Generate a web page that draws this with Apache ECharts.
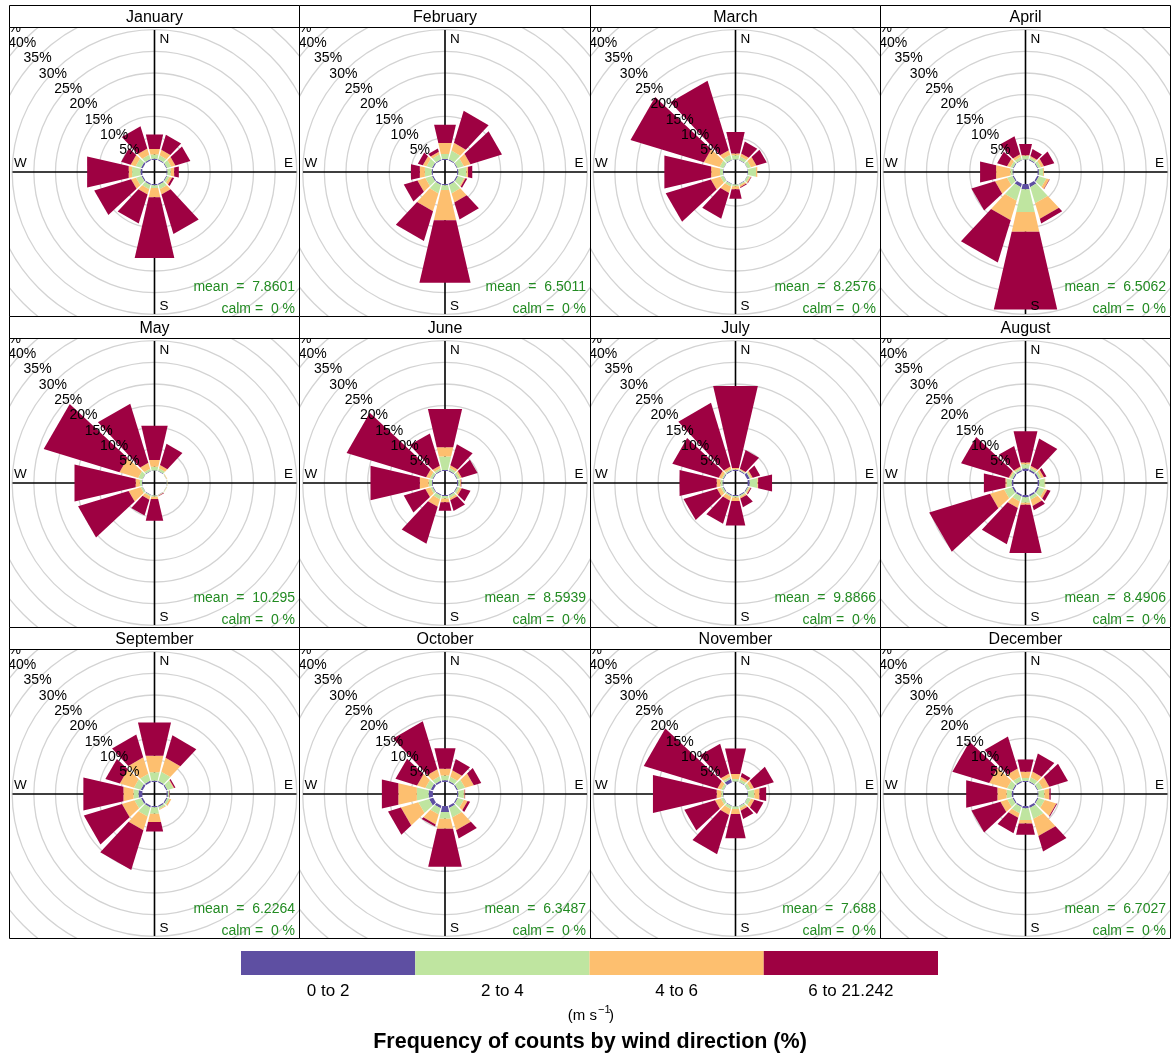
<!DOCTYPE html>
<html>
<head>
<meta charset="utf-8">
<script src="https://cdn.jsdelivr.net/npm/echarts@6/dist/echarts.min.js"></script>
<style>
html,body{margin:0;padding:0;background:#fff;}
#wrap{position:relative;width:1171px;height:1058px;overflow:hidden;background:#fff;}
.pane{position:absolute;}
</style>
</head>
<body>
<div id="wrap"></div>
<script>
// ---------------- DATA ----------------
const monthNames = ['January','February','March','April','May','June','July','August','September','October','November','December'];
const directions = [0, 30, 60, 90, 120, 150, 180, 210, 240, 270, 300, 330];
const speedBins = ['0 to 2', '2 to 4', '4 to 6', '6 to 21.242'];
const ringTicks = [5, 10, 15, 20, 25, 30, 35, 40, 45];
const meanSpeed = ['7.8601','6.5011','8.2576','6.5062','10.295','8.5939','9.8866','8.4906','6.2264','6.3487','7.688','6.7027'];
const calmPct = [0,0,0,0,0,0,0,0,0,0,0,0];

// frequency (%) by direction N,30,60,...,330 ; rows = speed bins 0-2, 2-4, 4-6, 6+
const freqJan = [
  [0.3,0.2,0.2,0.2,0.2,0.3,0.3,0.3,0.3,0.45,0.4,0.3],
  [1.0,1.0,1.0,0.8,0.6,1.0,0.6,1.0,1.3,2.0,1.3,1.0],
  [1.3,1.3,1.0,0.8,0.6,1.3,2.2,1.3,1.2,0.8,1.2,1.5],
  [3.4,3.65,3.6,1.1,0.5,9.5,14.4,7.0,8.9,9.85,2.3,5.4]
];
const freqFeb = [
  [0.2,0.2,0.2,0.3,0.3,0.3,0.3,0.3,0.3,0.3,0.3,0.2],
  [1.2,2.1,1.5,1.9,1.5,2.0,1.1,2.0,1.6,1.6,1.3,1.2],
  [2.6,1.9,1.6,0.4,0.3,2.2,7.2,4.3,1.9,1.2,0.9,0.6],
  [4.35,7.7,7.6,1.0,0.4,4.1,14.8,7.2,3.3,2.1,1.2,0.8]
];
const freqMar = [
  [0.1,0.1,0.1,0.1,0.1,0.1,0.1,0.1,0.1,0.1,0.1,0.1],
  [1.0,0.8,0.8,1.9,0.5,0.3,0.4,0.6,0.7,0.7,0.9,1.2],
  [0.4,0.7,1.3,0.3,0.3,0.4,0.7,1.5,2.3,2.1,3.8,1.1],
  [5.1,2.9,2.5,0.0,0.1,0.2,2.3,6.2,10.9,11.1,17.7,16.8]
];
const freqApr = [
  [0.1,0.2,0.2,0.3,0.4,0.8,1.25,0.8,0.3,0.2,0.2,0.1],
  [0.8,0.5,0.7,1.0,1.8,3.9,5.35,3.3,1.3,0.5,0.6,0.7],
  [0.2,0.3,0.7,0.2,0.7,3.75,4.7,4.7,2.9,3.4,0.8,0.6],
  [2.7,1.7,2.5,0.0,0.1,1.1,18.4,10.2,5.7,3.8,2.4,4.4]
];
const freqMay = [
  [0.1,0.1,0.05,0.05,0.05,0.05,0.1,0.1,0.1,0.1,0.1,0.1],
  [0.9,0.6,0.1,0.1,0.1,0.1,0.3,0.3,0.4,0.5,1.0,0.5],
  [1.6,0.8,0.1,0.05,0.05,0.1,0.5,0.8,2.9,1.0,4.5,1.4],
  [8.1,5.1,0.0,0.0,0.0,0.1,5.2,3.8,12.2,14.5,18.3,14.3]
];
const freqJun = [
  [0.2,0.2,0.2,0.3,0.2,0.2,0.2,0.2,0.2,0.2,0.2,0.2],
  [3.2,0.6,0.6,0.4,0.5,0.6,0.6,0.9,0.5,0.8,0.6,0.5],
  [2.2,0.6,0.4,0.2,0.5,0.5,0.9,1.8,1.2,2.1,0.9,0.6],
  [9.1,5.1,3.8,0.1,2.1,2.6,2.0,8.9,5.2,11.7,19.2,7.8]
];
const freqJul = [
  [0.2,0.2,0.6,0.5,0.2,0.2,0.2,0.2,0.2,0.2,0.2,0.2],
  [0.2,0.2,0.3,1.8,0.3,0.3,0.4,0.3,0.5,0.5,0.3,0.3],
  [0.3,0.2,0.4,0.2,0.3,0.4,0.8,0.9,0.9,0.9,0.7,0.6],
  [19.4,4.5,1.8,3.3,0.2,2.1,5.8,5.6,8.1,8.8,11.2,15.4]
];
const freqAug = [
  [0.6,0.4,0.4,0.4,0.4,0.4,0.5,0.4,0.4,0.4,0.3,0.3],
  [1.0,0.5,0.6,1.3,1.4,0.8,1.3,1.2,1.9,1.2,0.6,0.5],
  [0.4,0.4,0.6,0.1,0.6,1.5,0.5,1.6,3.4,0.3,0.3,0.3],
  [7.4,6.6,0.6,0.0,0.8,1.0,11.4,8.7,14.7,5.1,11.5,5.0]
];
const freqSep = [
  [0.3,0.3,0.3,0.3,0.3,0.3,0.3,0.4,0.4,0.9,0.5,0.4],
  [2.0,2.2,1.4,0.4,0.5,0.5,1.5,2.2,1.6,1.2,1.6,1.6],
  [3.9,3.4,0.2,0.0,0.4,0.2,2.0,3.3,3.0,2.4,3.4,4.0],
  [7.9,5.4,0.3,0.1,0.0,0.0,2.2,9.6,9.2,9.5,3.5,5.5]
];
const freqOct = [
  [0.4,0.3,0.3,0.3,0.3,0.5,1.4,0.6,1.0,1.0,0.6,0.4],
  [1.1,1.0,1.7,1.3,1.4,2.3,1.6,1.5,2.6,2.8,1.3,1.0],
  [1.6,1.6,2.1,0.2,0.9,3.1,2.4,2.4,4.2,4.4,2.0,1.7],
  [4.9,2.7,1.8,0.1,0.6,2.0,9.0,0.5,3.1,3.9,5.2,11.6]
];
const freqNov = [
  [0.1,0.1,0.1,0.1,0.1,0.1,0.1,0.1,0.1,0.1,0.1,0.8],
  [0.6,0.6,0.7,1.5,0.8,0.5,0.6,0.7,0.6,0.4,0.5,0.5],
  [1.2,0.6,0.8,1.2,0.8,0.6,1.2,1.4,1.4,1.1,0.9,0.8],
  [6.0,0.9,4.8,1.6,2.2,2.0,5.7,9.5,7.4,15.1,17.8,7.2]
];
const freqDec = [
  [0.2,0.2,0.2,0.2,0.3,0.5,0.5,0.3,0.3,0.4,0.3,0.3],
  [0.7,1.0,1.1,1.4,1.5,2.7,2.8,1.5,1.2,1.2,1.3,1.0],
  [1.5,1.4,1.6,1.2,2.8,4.1,0.8,1.1,1.7,2.2,4.3,2.0],
  [2.9,4.3,4.5,0.3,0.2,3.7,2.7,3.7,7.0,7.4,8.9,7.7]
];
const monthFreq = [freqJan,freqFeb,freqMar,freqApr,freqMay,freqJun,freqJul,freqAug,freqSep,freqOct,freqNov,freqDec];

// ---------------- STYLE / LAYOUT ----------------
const binColors = ['#5E4FA2', '#BFE5A0', '#FDBF6F', '#9E0142'];
const FONT = '"Liberation Sans", Arial, Helvetica, sans-serif';
const colX = [9, 299, 590, 880, 1170];
const rowY = [5, 316, 627, 938];
const HEADER = 22;
const PX_PER_PCT = 4.33;
const HOLE = 12.4 / PX_PER_PCT;     // size of central hole in % units
const RMAX = 45;
const POLAR_R = (RMAX + HOLE) * PX_PER_PCT;
const HALF = 13;                    // half width of a wedge in degrees
const CROSS_R = 142;

const wrap = document.getElementById('wrap');

function buildPanel(idx) {
  const r = Math.floor(idx / 4), c = idx % 4;
  const left = colX[c], top = rowY[r];
  const W = colX[c + 1] - left + 1, H = rowY[r + 1] - top + 1;
  const div = document.createElement('div');
  div.className = 'pane';
  div.style.left = left + 'px'; div.style.top = top + 'px';
  div.style.width = W + 'px'; div.style.height = H + 'px';
  wrap.appendChild(div);
  const chart = echarts.init(div, null, { renderer: 'canvas', width: W, height: H });
  const cx = W / 2, cy = HEADER + (H - HEADER) / 2;

  const freq = monthFreq[idx];
  const data = [];
  directions.forEach((d, i) => {
    let cum = 0;
    for (let b = 0; b < 4; b++) {
      const v = freq[b][i];
      if (v > 0) data.push([d, cum, cum + v, b]);
      cum += v;
    }
  });

  const txt = (x, y, text, align, extra) => ({
    type: 'text', x: x, y: y, z: 60, silent: true,
    style: Object.assign({ text: text, fill: '#000', fontSize: 13.5, fontFamily: FONT, align: align, verticalAlign: 'middle' }, extra || {})
  });

  const option = {
    animation: false,
    polar: [
      { center: [cx, cy], radius: POLAR_R },
      { center: [cx, cy], radius: CROSS_R },
      { center: [cx, cy], radius: POLAR_R }
    ],
    angleAxis: [
      { polarIndex: 0, type: 'value', min: 0, max: 360, startAngle: 90, clockwise: true,
        axisLine: { show: false }, axisTick: { show: false }, axisLabel: { show: false }, splitLine: { show: false } },
      { polarIndex: 1, type: 'value', min: 0, max: 360, interval: 90, startAngle: 90, z: 1,
        axisLine: { show: false }, axisTick: { show: false }, axisLabel: { show: false },
        splitLine: { show: true, lineStyle: { color: '#000', width: 1.6 } } },
      { polarIndex: 2, type: 'value', min: 0, max: 360, startAngle: 135,
        axisLine: { show: false }, axisTick: { show: false }, axisLabel: { show: false }, splitLine: { show: false } }
    ],
    radiusAxis: [
      { polarIndex: 0, type: 'value', min: -HOLE, max: RMAX, z: 0,
        axisLine: { show: false }, axisTick: { show: false, customValues: ringTicks },
        axisLabel: { show: false }, splitLine: { show: true, lineStyle: { color: '#d3d3d3', width: 1.3 } } },
      { polarIndex: 1, type: 'value', min: 0, max: 1, show: false },
      { polarIndex: 2, type: 'value', min: -HOLE, max: RMAX, z: 5,
        axisLine: { show: false }, axisTick: { show: false, customValues: ringTicks },
        splitLine: { show: false },
        axisLabel: { show: true, customValues: ringTicks, formatter: '{p|{value}%}', margin: 0,
          align: 'center', verticalAlign: 'middle', fontSize: 14, color: '#000', fontFamily: FONT,
          rich: { p: { padding: [5, 2, 0, 0], fontSize: 14, color: '#000', fontFamily: FONT } } } }
    ],
    series: [{
      type: 'custom', coordinateSystem: 'polar', polarIndex: 0, z: 2, silent: true,
      encode: { angle: 0, radius: 1 },
      data: data,
      renderItem: function (params, api) {
        const d = api.value(0), r0 = api.value(1), r1 = api.value(2), b = api.value(3);
        const pts = [[r0, d - HALF], [r0, d + HALF], [r1, d + HALF], [r1, d - HALF]].map(p => api.coord(p));
        return { type: 'polygon', shape: { points: pts }, style: { fill: binColors[b], stroke: null } };
      }
    }],
    graphic: [
      { type: 'rect', z: 100, silent: true, shape: { x: 0.5, y: 0.5, width: W - 1, height: HEADER },
        style: { fill: '#fff', stroke: '#000', lineWidth: 1 } },
      { type: 'rect', z: 100, silent: true, shape: { x: 0.5, y: HEADER + 0.5, width: W - 1, height: H - HEADER - 1 },
        style: { fill: null, stroke: '#000', lineWidth: 1 } },
      Object.assign(txt(W / 2, HEADER / 2 + 1.2, monthNames[idx], 'center', { fontSize: 16 }), { z: 110 }),
      txt(cx + 5, cy - 133, 'N', 'left'),
      txt(cx + 5, cy + 134.5, 'S', 'left'),
      txt(cx - 140.5, cy - 9, 'W', 'left'),
      txt(cx + 138.5, cy - 9, 'E', 'right'),
      txt(W - 5, cy + 115.5, 'mean  =  ' + meanSpeed[idx], 'right', { fill: '#228B22', fontSize: 14 }),
      txt(W - 5, cy + 137, 'calm =  ' + calmPct[idx] + ' %', 'right', { fill: '#228B22', fontSize: 14 })
    ]
  };
  chart.setOption(option);
}

for (let i = 0; i < 12; i++) buildPanel(i);

// ---------------- KEY ----------------
(function () {
  const div = document.createElement('div');
  div.className = 'pane';
  div.style.left = '0px'; div.style.top = '940px';
  div.style.width = '1171px'; div.style.height = '118px';
  wrap.appendChild(div);
  const chart = echarts.init(div, null, { renderer: 'canvas', width: 1171, height: 118 });
  chart.setOption({
    animation: false,
    grid: { left: 241, top: 11, width: 697, height: 24 },
    xAxis: { type: 'category', data: speedBins, axisLine: { show: false }, axisTick: { show: false },
      axisLabel: { fontSize: 17, color: '#000', margin: 8, fontFamily: FONT } },
    yAxis: { type: 'value', min: 0, max: 1, show: false },
    series: [{ type: 'bar', barWidth: '100%', barCategoryGap: '0%', silent: true,
      data: speedBins.map((s, i) => ({ value: 1, itemStyle: { color: binColors[i] } })) }],
    graphic: [
      { type: 'text', x: 597, y: 76, style: { text: '(m s', fontSize: 15, fontFamily: FONT, fill: '#000', align: 'right', verticalAlign: 'middle' } },
      { type: 'text', x: 598, y: 70, style: { text: '\u22121', fontSize: 11, fontFamily: FONT, fill: '#000', align: 'left', verticalAlign: 'middle' } },
      { type: 'text', x: 609, y: 76, style: { text: ')', fontSize: 15, fontFamily: FONT, fill: '#000', align: 'left', verticalAlign: 'middle' } },
      { type: 'text', x: 590, y: 102, style: { text: 'Frequency of counts by wind direction (%)', fontSize: 21.5, fontWeight: 'bold', fontFamily: FONT, fill: '#000', align: 'center', verticalAlign: 'middle' } }
    ]
  });
})();
</script>
</body>
</html>
